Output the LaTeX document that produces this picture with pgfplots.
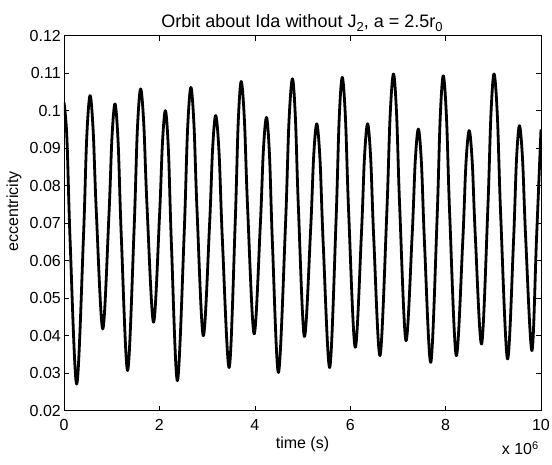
\documentclass[border=0pt]{standalone}
\usepackage{pgfplots}
\pgfplotsset{compat=1.18}
\usepackage{fontspec}
\setmainfont{Liberation Sans}
\begin{document}
\begin{tikzpicture}
\begin{axis}[
  scale only axis, width=477pt, height=375pt,
  at={(0pt,0pt)}, anchor=south west,
  xmin=0, xmax=10, ymin=0.02, ymax=0.12,
  xtick={0,2,4,6,8,10},
  ytick={0.02,0.03,0.04,0.05,0.06,0.07,0.08,0.09,0.1,0.11,0.12},
  yticklabels={0.02,0.03,0.04,0.05,0.06,0.07,0.08,0.09,0.1,0.11,0.12},
  xticklabels={0,2,4,6,8,10},
  tick align=inside, tick pos=both,
  major tick length=5pt,
  tick style={black, line width=0.5pt},
  axis line style={black, line width=0.6pt},
  ticklabel style={font=\fontsize{16}{18}\selectfont},
  xticklabel style={anchor=north, inner sep=0pt, yshift=-8.6pt},
  yticklabel style={anchor=east, inner sep=0pt, xshift=-3pt},
  /pgf/number format/assume math mode=true,
  clip=true,
]
\addplot[black, line width=2.8pt, smooth, tension=0.55, line join=round] coordinates {
(0.00,0.1022) (0.06,0.0930) (0.13,0.0647) (0.266,0.0271)
(0.406,0.0656) (0.4755,0.0925) (0.545,0.1040) (0.6115,0.0947) (0.678,0.0729) (0.812,0.0418)
(0.941,0.0718) (1.0055,0.0928) (1.070,0.1018) (1.136,0.0912) (1.202,0.0663) (1.334,0.0307)
(1.469,0.0683) (1.537,0.0946) (1.605,0.1058) (1.6725,0.0965) (1.740,0.0747) (1.876,0.0436)
(2.002,0.0718) (2.0645,0.0915) (2.127,0.1000) (2.19,0.0892) (2.253,0.0640) (2.378,0.0280)
(2.519,0.0671) (2.589,0.0945) (2.659,0.1062) (2.7245,0.0963) (2.790,0.0731) (2.920,0.0400)
(3.051,0.0694) (3.116,0.0899) (3.181,0.0987) (3.2515,0.0886) (3.322,0.0651) (3.463,0.0315)
(3.588,0.0697) (3.651,0.0964) (3.714,0.1078) (3.7815,0.0977) (3.849,0.0742) (3.985,0.0405)
(4.115,0.0694) (4.1805,0.0896) (4.246,0.0982) (4.3085,0.0880) (4.371,0.0642) (4.497,0.0302)
(4.643,0.0694) (4.7155,0.0968) (4.788,0.1085) (4.851,0.0982) (4.914,0.0742) (5.039,0.0398)
(5.170,0.0682) (5.235,0.0880) (5.300,0.0965) (5.368,0.0867) (5.436,0.0640) (5.571,0.0315)
(5.702,0.0702) (5.7675,0.0973) (5.833,0.1089) (5.9005,0.0981) (5.968,0.0729) (6.104,0.0369)
(6.234,0.0667) (6.2995,0.0876) (6.365,0.0965) (6.43,0.0872) (6.495,0.0656) (6.626,0.0347)
(6.766,0.0723) (6.8365,0.0985) (6.907,0.1098) (6.9725,0.0991) (7.038,0.0743) (7.168,0.0387)
(7.299,0.0669) (7.364,0.0866) (7.429,0.0951) (7.4945,0.0858) (7.560,0.0640) (7.690,0.0329)
(7.821,0.0711) (7.886,0.0978) (7.951,0.1093) (8.019,0.0981) (8.087,0.0720) (8.223,0.0347)
(8.358,0.0647) (8.426,0.0857) (8.494,0.0947) (8.559,0.0862) (8.624,0.0663) (8.755,0.0378)
(8.885,0.0738) (8.9505,0.0990) (9.016,0.1098) (9.086,0.0984) (9.156,0.0718) (9.297,0.0338)
(9.423,0.0649) (9.4855,0.0867) (9.548,0.0960) (9.6135,0.0870) (9.679,0.0660) (9.809,0.0360)
(9.905,0.0655) (10.0,0.0950)
};
\end{axis}
\node[anchor=base, font=\fontsize{18}{20}\selectfont, inner sep=0pt] at (238pt,383.2pt)
  {Orbit about Ida without J\raisebox{-4pt}{\fontsize{13}{13}\selectfont 2}, a = 2.5r\raisebox{-4pt}{\fontsize{13}{13}\selectfont 0}};
\node[anchor=base, font=\fontsize{16}{18}\selectfont, inner sep=0pt] at (238.5pt,-38.3pt) {time (s)};
\node[anchor=base, rotate=90, font=\fontsize{16}{18}\selectfont, inner sep=0pt] at (-46pt,199.5pt) {eccentricity};
\node[anchor=base west, font=\fontsize{16}{18}\selectfont, inner sep=0pt] at (437.7pt,-44.3pt)
  {x 10\raisebox{5pt}{\fontsize{11}{12}\selectfont 6}};
\useasboundingbox (-64pt,-54.3pt) rectangle (488pt,410.7pt);
\end{tikzpicture}
\end{document}
